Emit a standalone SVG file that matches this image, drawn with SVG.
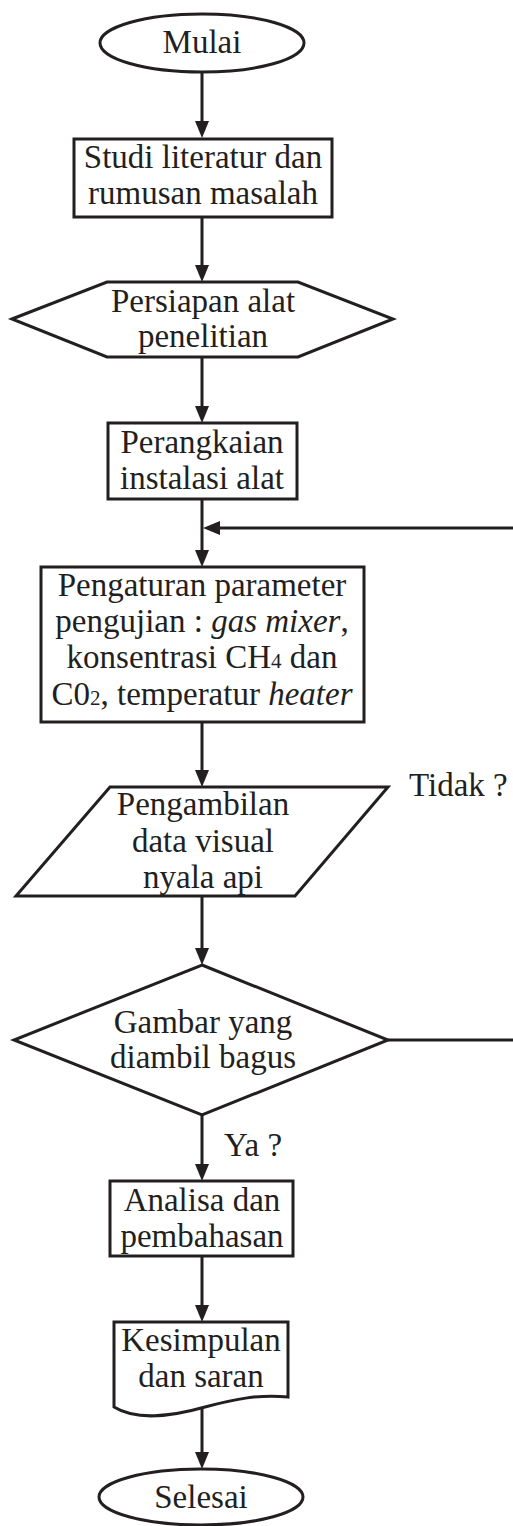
<svg xmlns="http://www.w3.org/2000/svg" width="513" height="1526" viewBox="0 0 513 1526">
<style>
.s{fill:#fff;stroke:#231f20;stroke-width:3}
.c{fill:none;stroke:#231f20;stroke-width:3}
text{font-family:"Liberation Serif",serif;font-size:33px;fill:#231f20}
.m{text-anchor:middle}
.i{font-style:italic}
.sub{font-size:21px}
</style>
<defs>
<marker id="arr" viewBox="0 0 17 14" refX="11" refY="7" markerWidth="17" markerHeight="14" markerUnits="userSpaceOnUse" orient="auto">
<path d="M0,0 L17,7 L0,14 z" fill="#231f20"/>
</marker>
</defs>
<rect width="513" height="1526" fill="#fff"/>
<g id="connectors">
<path class="c" d="M202,72 V132" marker-end="url(#arr)"/>
<path class="c" d="M202,217 V276" marker-end="url(#arr)"/>
<path class="c" d="M202,357 V417" marker-end="url(#arr)"/>
<path class="c" d="M202,499 V561" marker-end="url(#arr)"/>
<path class="c" d="M202,722 V781" marker-end="url(#arr)"/>
<path class="c" d="M202,896 V959" marker-end="url(#arr)"/>
<path class="c" d="M202,1115 V1175" marker-end="url(#arr)"/>
<path class="c" d="M202,1256 V1316" marker-end="url(#arr)"/>
<path class="c" d="M202,1405 V1463" marker-end="url(#arr)"/>
<path class="c" d="M388,1040 H514"/>
<path class="c" d="M514,528 H209" marker-end="url(#arr)"/>
</g>
<g font-family="Liberation Serif, serif">
<g id="mulai">
<ellipse class="s" cx="202" cy="43" rx="102" ry="29"/>
<text class="m" x="202" y="53">Mulai</text>
</g>
<g id="studi">
<rect class="s" x="74" y="139" width="258" height="78"/>
<text class="m" x="203" y="168">Studi literatur dan</text>
<text class="m" x="203" y="204">rumusan masalah</text>
</g>
<g id="persiapan">
<polygon class="s" points="12,319 107,282 298,282 393,319 298,357 107,357"/>
<text class="m" x="203" y="312">Persiapan alat</text>
<text class="m" x="203" y="347">penelitian</text>
</g>
<g id="perangkaian">
<rect class="s" x="108" y="423" width="189" height="76"/>
<text class="m" x="202" y="453">Perangkaian</text>
<text class="m" x="202" y="489">instalasi alat</text>
</g>
<g id="pengaturan">
<rect class="s" x="41" y="567" width="323" height="155"/>
<text class="m" x="202" y="596">Pengaturan parameter</text>
<text class="m" x="202" y="632">pengujian : <tspan class="i">gas mixer</tspan>,</text>
<text class="m" x="202" y="668">konsentrasi CH<tspan class="sub">4</tspan> dan</text>
<text class="m" x="202" y="705">C0<tspan class="sub">2</tspan>, temperatur <tspan class="i">heater</tspan></text>
</g>
<g id="pengambilan">
<polygon class="s" points="110,787 388,787 295,896 16,896"/>
<text class="m" x="203" y="815">Pengambilan</text>
<text class="m" x="203" y="852">data visual</text>
<text class="m" x="203" y="888">nyala api</text>
</g>
<g id="tidak">
<text x="409" y="796">Tidak ?</text>
</g>
<g id="gambar">
<polygon class="s" points="202,965 388,1040 202,1115 14,1040"/>
<text class="m" x="203" y="1033">Gambar yang</text>
<text class="m" x="203" y="1068">diambil bagus</text>
</g>
<g id="ya">
<text x="224" y="1156">Ya ?</text>
</g>
<g id="analisa">
<rect class="s" x="110" y="1181" width="183" height="75"/>
<text class="m" x="202" y="1211">Analisa dan</text>
<text class="m" x="202" y="1247">pembahasan</text>
</g>
<g id="kesimpulan">
<path class="s" d="M114,1322 H288 V1397 C260,1394 235,1399 205,1407 C170,1417 135,1420 114,1407 Z"/>
<text class="m" x="201" y="1351">Kesimpulan</text>
<text class="m" x="201" y="1387">dan saran</text>
</g>
<g id="selesai">
<ellipse class="s" cx="201" cy="1497" rx="102" ry="28"/>
<text class="m" x="201" y="1508">Selesai</text>
</g>
</g>
</svg>
